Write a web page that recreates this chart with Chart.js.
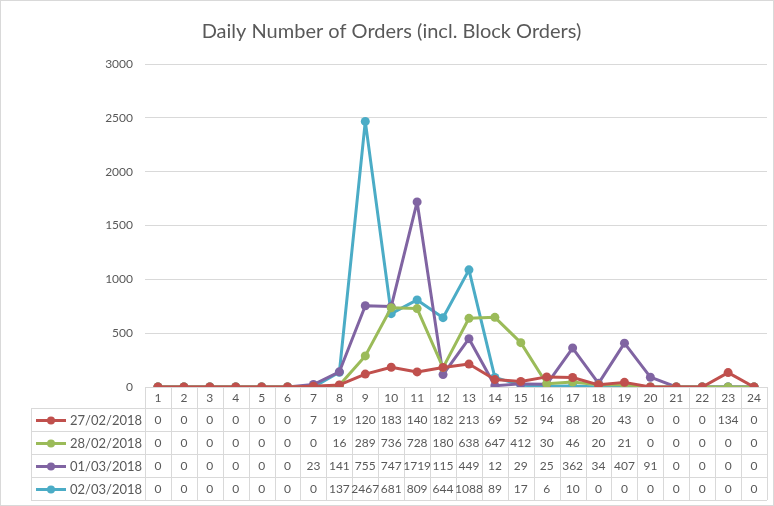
<!DOCTYPE html>
<html>
<head>
<meta charset="utf-8">
<script src="https://cdn.jsdelivr.net/npm/chart.js@4.4.1/dist/chart.umd.min.js"></script>
<style>
  html, body { margin: 0; padding: 0; background: #fff; }
  #wrap { width: 774px; height: 506px; }
</style>
</head>
<body>
<div id="wrap"><canvas id="myChart" width="774" height="506"></canvas></div>
<script>
//App data
const days = ["1","2","3","4","5","6","7","8","9","10","11","12","13","14","15","16","17","18","19","20","21","22","23","24"];
const seriesNames = ["27/02/2018", "28/02/2018", "01/03/2018", "02/03/2018"];
const orders2702 = [0,0,0,0,0,0,7,19,120,183,140,182,213,69,52,94,88,20,43,0,0,0,134,0];
const orders2802 = [0,0,0,0,0,0,0,16,289,736,728,180,638,647,412,30,46,20,21,0,0,0,0,0];
const orders0103 = [0,0,0,0,0,0,23,141,755,747,1719,115,449,12,29,25,362,34,407,91,0,0,0,0];
const orders0203 = [0,0,0,0,0,0,0,137,2467,681,809,644,1088,89,17,6,10,0,0,0,0,0,0,0];
const yTicks = [0, 500, 1000, 1500, 2000, 2500, 3000];
const colors = ["#C0504D", "#9BBB59", "#8064A2", "#4BACC6"];

const fontFamily = "Lato, 'Open Sans', sans-serif";
const textColor = "#595959";
const gridColor = "#d9d9d9";

//draws the data table under the chart, using the x scale for column positions
const dataTable = {
  id: "dataTable",
  afterDraw(chart) {
    const ctx = chart.ctx;
    const x = chart.scales.x;
    const area = chart.chartArea;
    const colW = x.getPixelForValue(1) - x.getPixelForValue(0);
    const tableLeft = 31;
    const headTop = area.bottom;
    const headH = 21;
    const rowH = 23;
    const right = area.right;

    ctx.save();
    ctx.strokeStyle = gridColor;
    ctx.lineWidth = 1;

    // horizontal lines
    for (let r = 0; r <= chart.data.datasets.length; r++) {
      const y = Math.round(headTop + headH + r * rowH) + 0.5;
      ctx.beginPath();
      ctx.moveTo(tableLeft, y);
      ctx.lineTo(right, y);
      ctx.stroke();
    }
    const bottom = headTop + headH + chart.data.datasets.length * rowH;
    // vertical lines
    for (let i = 0; i <= days.length; i++) {
      const xx = Math.round(area.left + i * colW) + 0.5;
      ctx.beginPath();
      ctx.moveTo(xx, headTop);
      ctx.lineTo(xx, bottom);
      ctx.stroke();
    }
    ctx.beginPath();
    ctx.moveTo(tableLeft + 0.5, headTop + headH);
    ctx.lineTo(tableLeft + 0.5, bottom);
    ctx.stroke();

    // header
    ctx.fillStyle = textColor;
    ctx.font = "12px " + fontFamily;
    ctx.textAlign = "center";
    ctx.textBaseline = "middle";
    days.forEach((d, i) => {
      ctx.fillText(d, x.getPixelForValue(i), headTop + headH / 2 + 1);
    });

    // rows
    chart.data.datasets.forEach((ds, r) => {
      const cy = headTop + headH + r * rowH + rowH / 2 + 1;
      // legend key
      ctx.strokeStyle = ds.borderColor;
      ctx.lineWidth = 3;
      ctx.beginPath();
      ctx.moveTo(36, cy);
      ctx.lineTo(66, cy);
      ctx.stroke();
      ctx.fillStyle = ds.borderColor;
      ctx.beginPath();
      ctx.arc(51, cy, 4, 0, Math.PI * 2);
      ctx.fill();

      ctx.fillStyle = textColor;
      ctx.font = "13px " + fontFamily;
      ctx.textAlign = "left";
      ctx.fillText(ds.label, 70, cy);

      ctx.font = "12px " + fontFamily;
      ctx.textAlign = "center";
      ds.data.forEach((v, i) => {
        ctx.fillText(String(v), x.getPixelForValue(i), cy);
      });
    });

    // outer frame
    ctx.strokeStyle = gridColor;
    ctx.lineWidth = 1;
    ctx.strokeRect(0.5, 0.5, chart.width - 1, chart.height - 1);
    ctx.restore();
  },
};

const makeSet = (i, data) => ({
  label: seriesNames[i],
  data: data,
  borderColor: colors[i],
  backgroundColor: colors[i],
  borderWidth: 3,
  borderJoinStyle: "round",
  borderCapStyle: "round",
  pointRadius: 4.5,
  pointHoverRadius: 4.5,
  pointBorderWidth: 0,
  tension: 0,
});

var ctx = document.getElementById("myChart").getContext("2d");
var chart = new Chart(ctx, {
  type: "line",
  data: {
    labels: days,
    datasets: [
      makeSet(0, orders2702),
      makeSet(1, orders2802),
      makeSet(2, orders0103),
      makeSet(3, orders0203),
    ],
  },
  options: {
    responsive: false,
    animation: false,
    layout: { padding: { left: 16, right: 7, top: 0, bottom: 119 } },
    plugins: {
      legend: { display: false },
      tooltip: { enabled: false },
      title: {
        display: true,
        text: "Daily Number of Orders (incl. Block Orders)",
        color: textColor,
        font: { family: fontFamily, size: 20, weight: "normal" },
        padding: { top: 20, bottom: 20 },
      },
    },
    scales: {
      x: {
        display: false,
        offset: true,
      },
      y: {
        min: 0,
        max: 3000,
        afterBuildTicks: (s) => {
          s.ticks = yTicks.map((v) => ({ value: v }));
        },
        afterFit: (s) => {
          s.width = 129;
        },
        border: { display: false },
        grid: { color: gridColor, drawTicks: false },
        ticks: {
          color: textColor,
          padding: 12,
          font: { family: fontFamily, size: 12 },
          callback: (v) => String(v),
        },
      },
    },
  },
  plugins: [dataTable],
});
</script>
</body>
</html>
